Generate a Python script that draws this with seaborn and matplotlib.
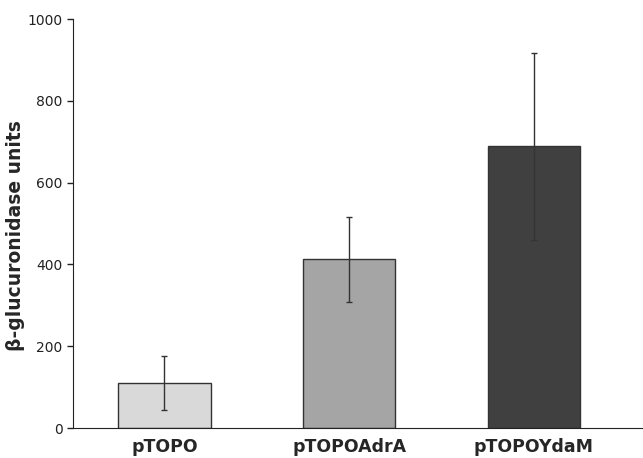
import numpy as np
import pandas as pd
import seaborn as sns
from matplotlib import pyplot as plt

# values
plasmids = ['pTOPO', 'pTOPOAdrA', 'pTOPOYdaM']
units = [111, 412, 690]
err_low = [44, 309, 460]
err_high = [176, 517, 916]
bar_colors = ['#d9d9d9', '#a5a5a5', '#404040']

sns.set_style('ticks')
plt.rcParams['font.family'] = ['DejaVu Sans']

df = pd.DataFrame({'plasmid': plasmids, 'units': units})

fig = plt.figure(figsize=(6.43, 4.58), dpi=100)
ax = fig.add_axes([0.1135, 0.0655, 0.8865, 0.893])

sns.barplot(data=df, x='plasmid', y='units', hue='plasmid', palette=bar_colors,
            width=0.5, edgecolor='#333333', linewidth=1, errorbar=None,
            legend=False, ax=ax)

# asymmetric error bars
pos = np.arange(len(plasmids))
yerr = [np.array(units) - np.array(err_low), np.array(err_high) - np.array(units)]
ax.errorbar(pos, units, yerr=yerr, fmt='none', ecolor='#333333',
            elinewidth=1, capsize=2.5, capthick=1)

ax.set_ylim(0, 1000)
ax.set_xlim(-0.495, 2.59)
ax.set_yticks(range(0, 1001, 200))
ax.set_xlabel('')
ax.set_ylabel('β-glucuronidase units', fontsize=13.5, fontweight='bold', labelpad=3)
ax.yaxis.set_label_coords(-0.085, 0.47)
ax.tick_params(axis='y', labelsize=10, length=4, width=1, colors='#222222')
ax.tick_params(axis='x', length=0, labelsize=12.5, pad=7)
for lbl in ax.get_xticklabels():
    lbl.set_fontweight('bold')

sns.despine(ax=ax, top=True, right=True)
ax.spines['left'].set_color('#222222')
ax.spines['bottom'].set_color('#222222')

fig.savefig('out.png', dpi=100)
